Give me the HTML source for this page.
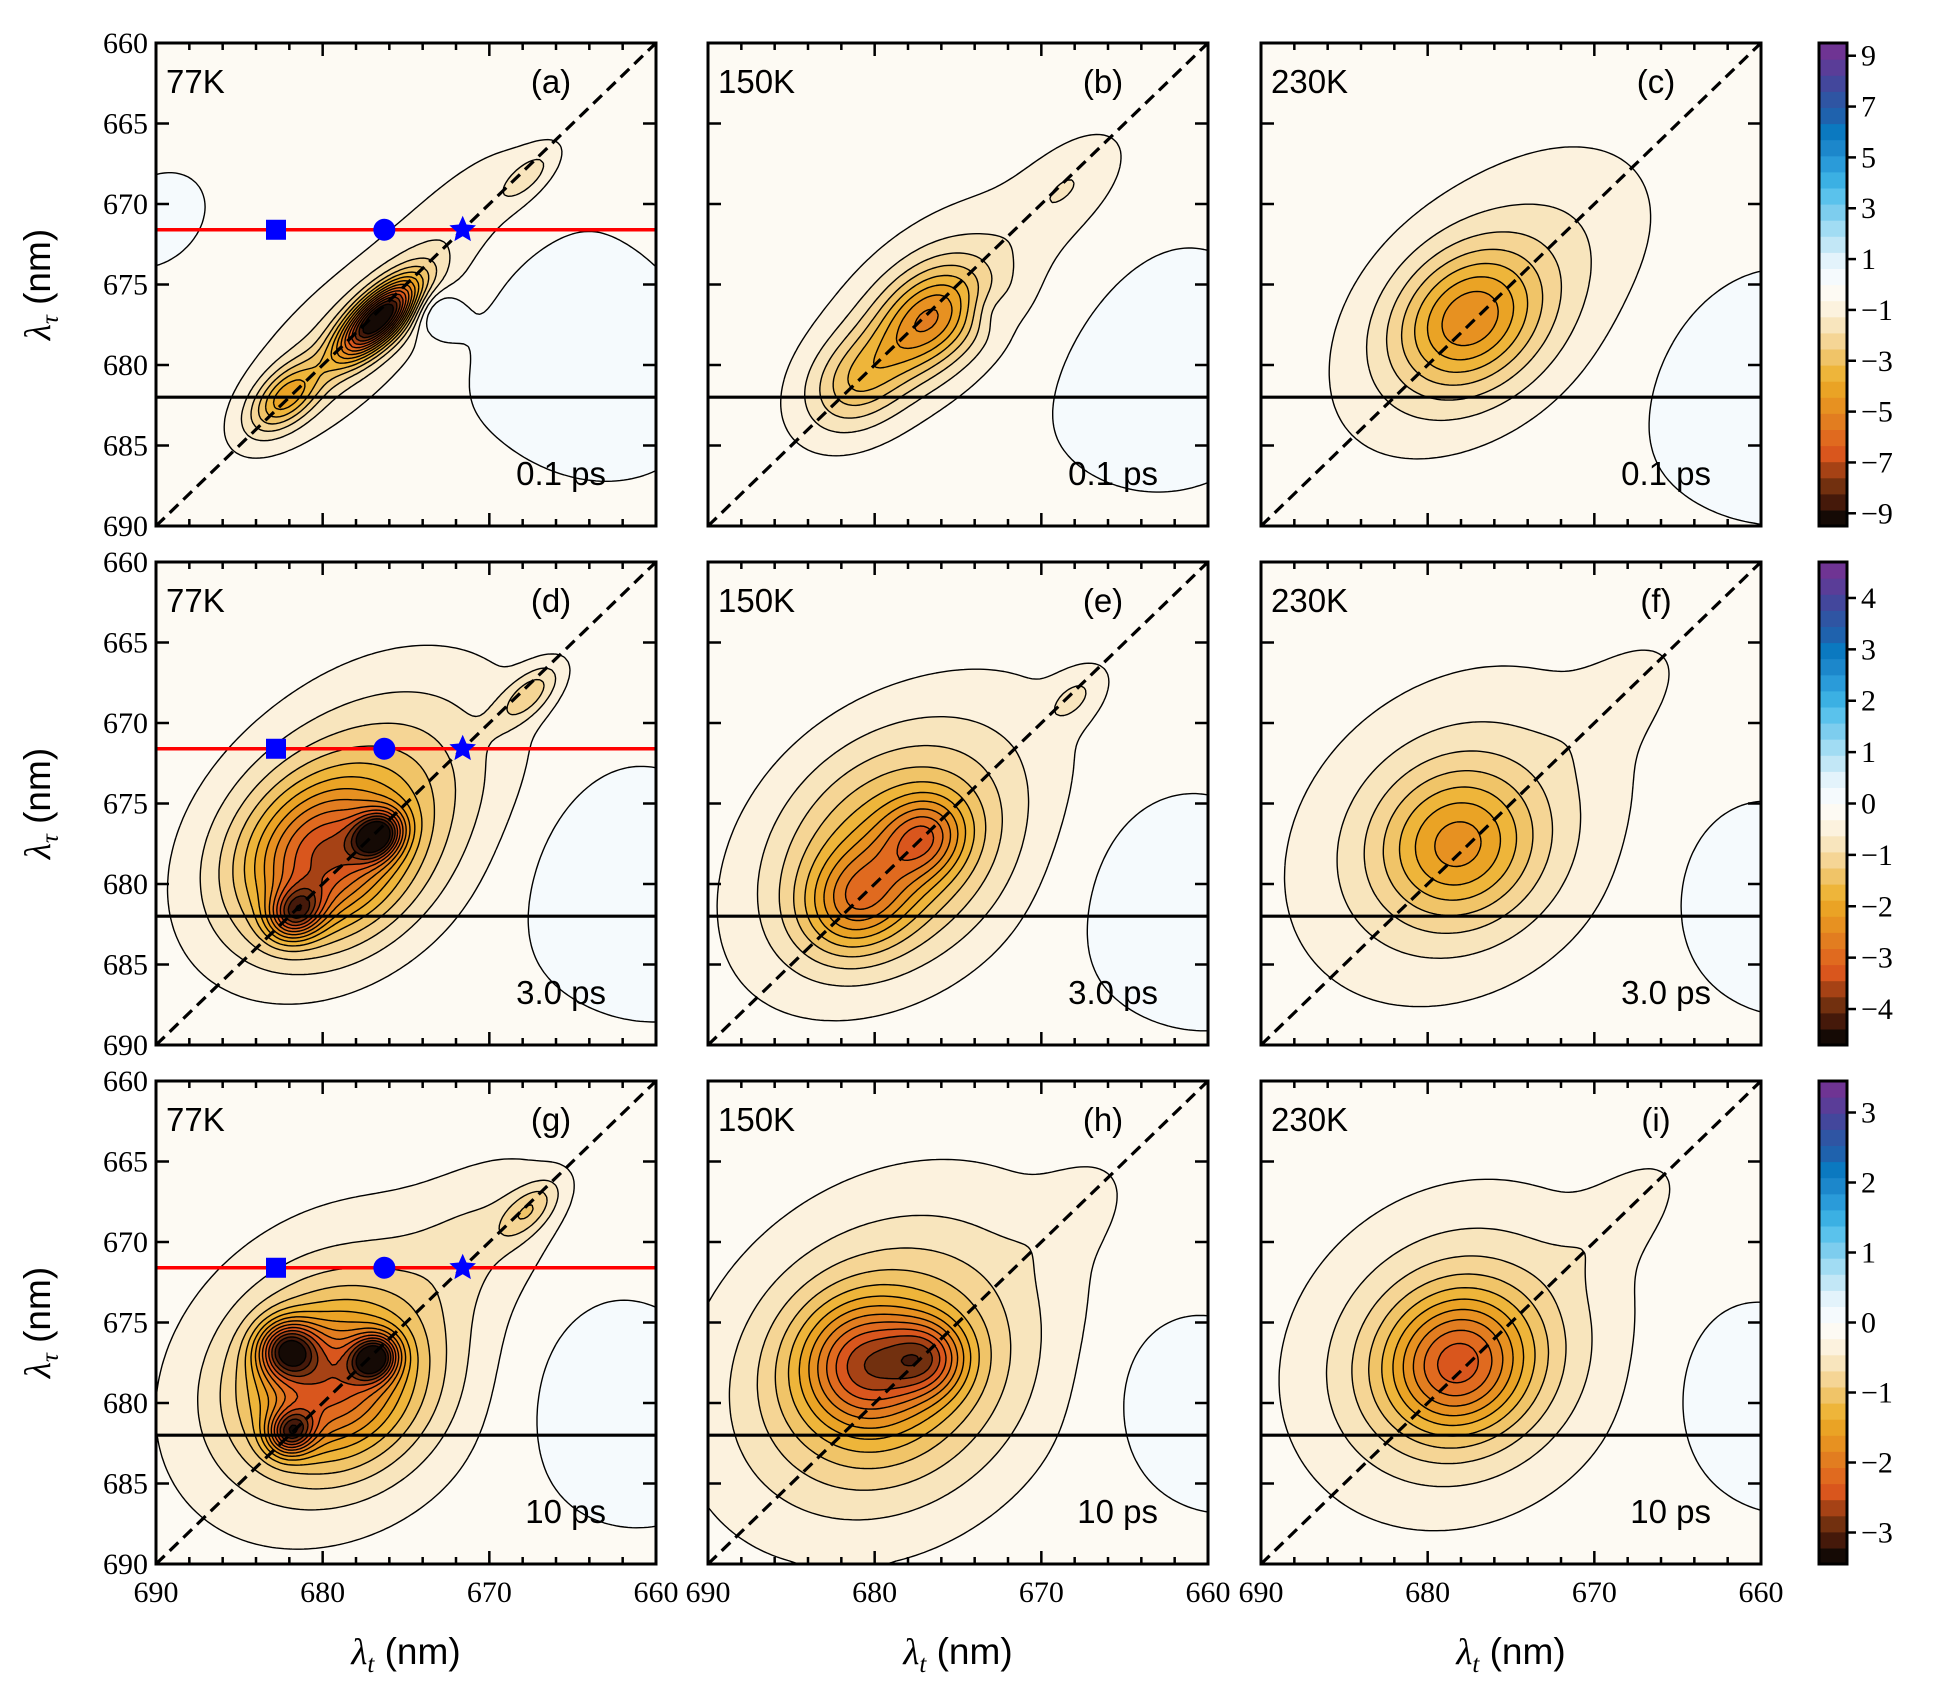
<!DOCTYPE html>
<html><head><meta charset="utf-8"><style>
html,body{margin:0;padding:0;background:#fff;}
#root{position:relative;width:1942px;height:1698px;overflow:hidden;}
canvas{position:absolute;}
svg{position:absolute;left:0;top:0;}
</style></head><body>
<div id="root"></div>
<script>
// ---- data (nm units): each peak = [amplitude, lambda_t centre, lambda_tau centre, sigma along diagonal, sigma across diagonal]
const panelLabels = ['(a)','(b)','(c)','(d)','(e)','(f)','(g)','(h)','(i)'];
const tempLabels = ['77K','150K','230K'];
const delayLabels = ['0.1 ps','3.0 ps','10 ps'];
const rowVmax = [9.5, 4.7, 3.45];
const rowTicks = [[9,7,5,3,1,-1,-3,-5,-7,-9],[4,3,2,1,0,-1,-2,-3,-4],[3,2,1,0,-1,-2,-3]];
const xTickLabels = [690,680,670,660];
const yTickLabels = [660,665,670,675,680,685,690];
const peaksA = [[-8.8,676.6,677.1,2.2,0.9],[-3.2,682.2,682.0,1.8,1.0],[-1.4,679,679,6,2.6],[-1.0,667.6,668.2,1.6,0.7],[-0.8,671,670,5,2.0],[1.4,673.4,676.6,1.1,1.2],[0.4,665,679,3.5,4.5],[0.2,690,671,2,1.5]];
const peaksB = [[-3.6,676.7,677.1,2.6,1.8],[-2.0,681,681,2.3,1.7],[-1.5,677,677,7,3.4],[-0.9,668,668.5,3,1.6],[0.6,673.2,676.6,1.0,1.0],[0.35,663,680,4,4]];
const peaksC = [[-3.3,677.6,677.2,3.2,2.6],[-1.7,676,676,8,4.6],[0.35,661,681,4,5]];
const peaksD = [[-2.8,676.7,677.0,1.1,0.9],[-2.2,681.6,681.8,1.2,1.0],[-2.2,680,678.5,3.5,3.0],[-1.4,678,676,7,4.6],[-0.9,667.6,668.2,1.7,0.8],[0.3,662,680,4,5]];
const peaksE = [[-1.4,677,677.1,1.8,1.6],[-1.4,681,681,2.4,2.0],[-1.3,679,678,5,4.2],[-0.6,678,677,9,5],[-0.45,668,668.4,1.6,0.9],[0.25,662,681,4,5]];
const peaksF = [[-1.4,678.2,677.6,3.2,3.0],[-0.9,678,677,7.5,5.8],[-0.3,668,668,3,1.6],[0.25,660,681,3.5,4.5]];
const peaksG = [[-1.9,682.1,676.7,1.2,1.2],[-2.0,676.9,677.2,1.0,0.9],[-1.7,681.9,681.8,1.0,0.9],[-1.6,679.5,678.8,3.5,3.2],[-0.8,679,678,7,5.4],[-0.6,667.6,668,1.6,0.8],[-0.3,670,669,4,2.5],[0.22,663,680,4,5]];
const peaksH = [[-1.3,680.6,677.6,2.6,2.6],[-1.1,676.8,677.2,1.6,1.6],[-0.9,679.3,678.3,5.5,4.8],[-0.5,679,677,9,6.5],[-0.2,668,668,2.5,1.5],[0.22,661,680,3.5,4.5]];
const peaksI = [[-1.5,678.2,677.6,3,2.8],[-0.9,678,677,6.5,5.6],[-0.25,668,668,3,1.5],[0.22,660,680,3.5,4.5]];
const panelPeaks = [peaksA,peaksB,peaksC,peaksD,peaksE,peaksF,peaksG,peaksH,peaksI];
const redLineTau = 671.6;
const blackLineTau = 682.0;
const markerLt = [682.8, 676.3, 671.6];
const negColors = ['#150a05','#45190a','#72300f','#a64215','#d9561d','#e06a1f','#e27d20','#e79121','#eaa325','#eeb53a','#f0c468','#f5d595','#f8e5bd','#fcf2de','#fdfaf3'];
const posColors = ['#f5fafd','#e3f3fb','#c2e7f6','#a1dcf3','#7dcdee','#5ac2ec','#3bb0e3','#2a9bd9','#1c87cb','#0b79c0','#1f62ad','#2f55a3','#43479c','#5a3d98','#6f3493'];

// ---- layout
const colLeft=[156,708,1261], rowTop=[43,562,1081], PW=500, PH=483;
const cbX=1819, cbW=28;
const NS='http://www.w3.org/2000/svg';
const root=document.getElementById('root');
const svg=document.createElementNS(NS,'svg');
svg.setAttribute('width',1942);svg.setAttribute('height',1698);


const colors=negColors.concat(posColors);
function hex(c){return [parseInt(c.substr(1,2),16),parseInt(c.substr(3,2),16),parseInt(c.substr(5,2),16)];}
const rgb=colors.map(hex);
function mk(tag,attrs,parent){const e=document.createElementNS(NS,tag);for(const k in attrs)e.setAttribute(k,attrs[k]);(parent||svg).appendChild(e);return e;}
function field(peaks,lt,lta){let s=-0.05;for(const p of peaks){const dx=lt-p[1],dy=lta-p[2];const u=(dx+dy)/1.41421,v=(dx-dy)/1.41421;s+=p[0]*Math.exp(-(u*u/(2*p[3]*p[3])+v*v/(2*p[4]*p[4])));}return s;}

for(let r=0;r<3;r++){for(let c=0;c<3;c++){
  const idx=r*3+c, L=colLeft[c], T=rowTop[r], vmax=rowVmax[r], band=2*vmax/30, peaks=panelPeaks[idx];
  const X=lt=>L+(690-lt)/30*PW, Y=la=>T+(la-660)/30*PH;
  const lt=px=>690-px/PW*30, la=py=>660+py/PH*30;
  const cv=document.createElement('canvas');cv.width=PW;cv.height=PH;cv.style.left=L+'px';cv.style.top=T+'px';
  
  
  const ctx=cv.getContext('2d');const img=ctx.createImageData(PW,PH);
  for(let py=0;py<PH;py++)for(let px=0;px<PW;px++){let v=field(peaks,lt(px+0.5),la(py+0.5));let b=Math.floor((v+vmax)/band);b=Math.max(0,Math.min(29,b));const o=(py*PW+px)*4,cc=rgb[b];img.data[o]=cc[0];img.data[o+1]=cc[1];img.data[o+2]=cc[2];img.data[o+3]=255;}
  ctx.putImageData(img,0,0);root.appendChild(cv);
  const g=4,nx=Math.ceil(PW/g),ny=Math.ceil(PH/g);const F=[];
  for(let j=0;j<=ny;j++){F.push([]);for(let i=0;i<=nx;i++)F[j].push(field(peaks,lt(Math.min(i*g,PW)),la(Math.min(j*g,PH))));}
  const grp=mk('g',{'clip-path':'url(#clip'+idx+')'});
  
  
  const cp=mk('clipPath',{id:'clip'+idx});mk('rect',{x:L,y:T,width:PW,height:PH},cp);
  for(let k=1;k<30;k++){const lev=-vmax+k*band;let d='';
    for(let j=0;j<ny;j++)for(let i=0;i<nx;i++){
      const a=F[j][i],b=F[j][i+1],cc=F[j+1][i+1],dd=F[j+1][i];
      const x0=L+i*g,y0=T+j*g;const pts=[];
      const e=(p,q)=>(lev-p)/(q-p);
      if((a>lev)!=(b>lev))pts.push([x0+g*e(a,b),y0]);
      if((b>lev)!=(cc>lev))pts.push([x0+g,y0+g*e(b,cc)]);
      if((dd>lev)!=(cc>lev))pts.push([x0+g*e(dd,cc),y0+g]);
      if((a>lev)!=(dd>lev))pts.push([x0,y0+g*e(a,dd)]);
      if(pts.length>=2)d+='M'+pts[0][0].toFixed(1)+' '+pts[0][1].toFixed(1)+'L'+pts[1][0].toFixed(1)+' '+pts[1][1].toFixed(1);
      if(pts.length==4)d+='M'+pts[2][0].toFixed(1)+' '+pts[2][1].toFixed(1)+'L'+pts[3][0].toFixed(1)+' '+pts[3][1].toFixed(1);
    }
    if(d){const p=mk('path',{d:d,stroke:'#000','stroke-width':1.4,fill:'none'},grp);
      
      }
  }
  const dg=mk('line',{x1:X(690),y1:Y(690),x2:X(660),y2:Y(660),stroke:'#000','stroke-width':3.2,'stroke-dasharray':'12,7'});
  
  
  const bl=mk('line',{x1:L,y1:Y(blackLineTau),x2:L+PW,y2:Y(blackLineTau),stroke:'#000','stroke-width':3.2});
  
  
  if(c==0){
    const rl=mk('line',{x1:L,y1:Y(redLineTau),x2:L+PW,y2:Y(redLineTau),stroke:'#ff0000','stroke-width':3.4});
    
    
    const yy=Y(redLineTau);
    const sq=mk('rect',{x:X(markerLt[0])-10,y:yy-10,width:20,height:20,fill:'#0000ff'});
    
    
    const ci=mk('circle',{cx:X(markerLt[1]),cy:yy,r:11,fill:'#0000ff'});
    
    
    let sp='';for(let q=0;q<10;q++){const ang=-Math.PI/2+q*Math.PI/5,rr=q%2?6.5:14;sp+=(q?'L':'M')+(X(markerLt[2])+rr*Math.cos(ang)).toFixed(1)+' '+(yy+rr*Math.sin(ang)).toFixed(1);}
    const st=mk('path',{d:sp+'Z',fill:'#0000ff'});
    
    
  }
  const fr=mk('rect',{x:L,y:T,width:PW,height:PH,fill:'none',stroke:'#000','stroke-width':3});
  
  
  let td='';
  for(let v=690;v>=660;v-=2){const x=X(v),len=((v%10)==0)?13:7;td+='M'+x+' '+(T+PH)+'v'+(-len)+'M'+x+' '+T+'v'+len;}
  for(let v=665;v<690;v+=5){const y=Y(v);td+='M'+L+' '+y+'h13M'+(L+PW)+' '+y+'h-13';}
  const tk=mk('path',{d:td,stroke:'#000','stroke-width':2.5,fill:'none'});
  
  
  const t1=mk('text',{x:L+10,y:T+50,'font-family':'Liberation Sans, sans-serif','font-size':33});t1.textContent=tempLabels[c];
  
  
  const t2=mk('text',{x:L+PW*0.79,y:T+50,'font-family':'Liberation Sans, sans-serif','font-size':33,'text-anchor':'middle'});t2.textContent=panelLabels[idx];
  
  
  const t3=mk('text',{x:L+PW*0.9,y:T+PH*0.915,'font-family':'Liberation Sans, sans-serif','font-size':33,'text-anchor':'end'});t3.textContent=delayLabels[r];
  
  
  if(c==0){for(const v of yTickLabels){const t=mk('text',{x:L-8,y:Y(v)+10,'font-family':'Liberation Serif, serif','font-size':30,'text-anchor':'end'});t.textContent=v;
    
    }
    const yl=mk('text',{x:0,y:0,'font-family':'Liberation Serif, serif','font-size':37,'text-anchor':'middle',transform:'translate(50,'+(T+PH/2)+') rotate(-90)'});
    yl.innerHTML='<tspan font-style="italic">λ</tspan><tspan font-size="25" dy="8" font-style="italic">τ</tspan><tspan dy="-8" font-family="Liberation Sans, sans-serif"> (nm)</tspan>';
    
    }
  if(r==2){for(const v of xTickLabels){const t=mk('text',{x:X(v),y:T+PH+38,'font-family':'Liberation Serif, serif','font-size':30,'text-anchor':'middle'});t.textContent=v;
    
    }
    const xl=mk('text',{x:L+PW/2,y:1664,'font-family':'Liberation Serif, serif','font-size':37,'text-anchor':'middle'});
    xl.innerHTML='<tspan font-style="italic">λ</tspan><tspan font-size="25" dy="8" font-style="italic">t</tspan><tspan dy="-8" font-family="Liberation Sans, sans-serif"> (nm)</tspan>';
    
    }
}
  const T=rowTop[r],vmax=rowVmax[r];const cb=mk('g',{});
  
  
  for(let k=0;k<30;k++){const rc=mk('rect',{x:cbX,y:T+PH-(k+1)*PH/30,width:cbW,height:PH/30+0.6,fill:colors[k]},cb);
    
    }
  mk('rect',{x:cbX,y:T,width:cbW,height:PH,fill:'none',stroke:'#000','stroke-width':3},cb);
  for(const t of rowTicks[r]){const y=T+(vmax-t)/(2*vmax)*PH;mk('line',{x1:cbX+cbW,y1:y,x2:cbX+cbW+9,y2:y,stroke:'#000','stroke-width':2.5},cb);
    const tx=mk('text',{x:cbX+cbW+14,y:y+10,'font-family':'Liberation Serif, serif','font-size':30},cb);tx.textContent=(t<0?'\u2212'+(-t):t);
    
    }
}
root.appendChild(svg);
</script>
</body></html>
